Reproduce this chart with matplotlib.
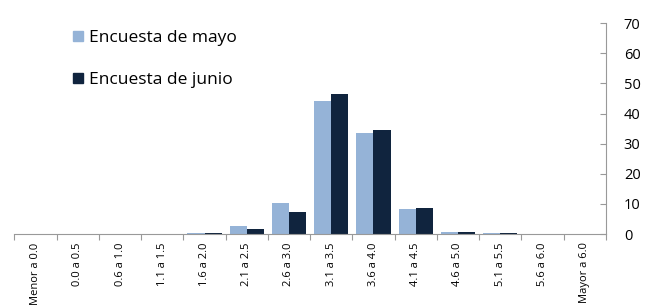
import numpy as np
import matplotlib.pyplot as plt
from matplotlib.patches import Patch

categories = ["Menor a 0.0", "0.0 a 0.5", "0.6 a 1.0", "1.1 a 1.5", "1.6 a 2.0",
              "2.1 a 2.5", "2.6 a 3.0", "3.1 a 3.5", "3.6 a 4.0", "4.1 a 4.5",
              "4.6 a 5.0", "5.1 a 5.5", "5.6 a 6.0", "Mayor a 6.0"]
mayo = [0.0, 0.0, 0.0, 0.0, 0.2, 2.6, 10.3, 44.0, 33.5, 8.3, 0.6, 0.2, 0.1, 0.1]
junio = [0.0, 0.0, 0.0, 0.0, 0.3, 1.6, 7.2, 46.5, 34.5, 8.7, 0.6, 0.3, 0.1, 0.0]

c_mayo = "#95b3d7"
c_junio = "#10243e"

plt.rcParams['font.family'] = ['Open Sans', 'DejaVu Sans']

fig = plt.figure(figsize=(6.57, 3.08), dpi=100)
ax = fig.add_axes([0.022, 0.240, 0.900, 0.685])

x = np.arange(len(categories))
w = 0.405
ax.bar(x - w / 2, mayo, w, color=c_mayo)
ax.bar(x + w / 2, junio, w, color=c_junio)

ax.set_xlim(-0.5, len(categories) - 0.5)
ax.set_ylim(0, 70)
ax.yaxis.tick_right()
ax.set_yticks(range(0, 71, 10))
ax.tick_params(axis="y", direction="in", length=4, color="#999999",
               labelsize=10.5, pad=13)

ax.set_xticks(np.arange(-0.5, len(categories), 1))
ax.set_xticklabels([])
ax.set_xticks(x, minor=True)
ax.set_xticklabels(categories, minor=True, rotation=90, fontsize=8,
                   va="top", ha="center")
ax.tick_params(axis="x", which="major", direction="out", length=4, color="#999999")
ax.tick_params(axis="x", which="minor", length=0, pad=6)

for s in ["top", "left"]:
    ax.spines[s].set_visible(False)
ax.spines["right"].set_color("#999999")
ax.spines["bottom"].set_color("#999999")

handles = [Patch(color=c_mayo), Patch(color=c_junio)]
ax.legend(handles, ["Encuesta de mayo", "Encuesta de junio"], loc="upper left",
          bbox_to_anchor=(0.073, 1.04), frameon=False, fontsize=12.5,
          handlelength=0.55, handleheight=0.55, handletextpad=0.35,
          labelspacing=1.5)

fig.savefig("out.png", dpi=100)
